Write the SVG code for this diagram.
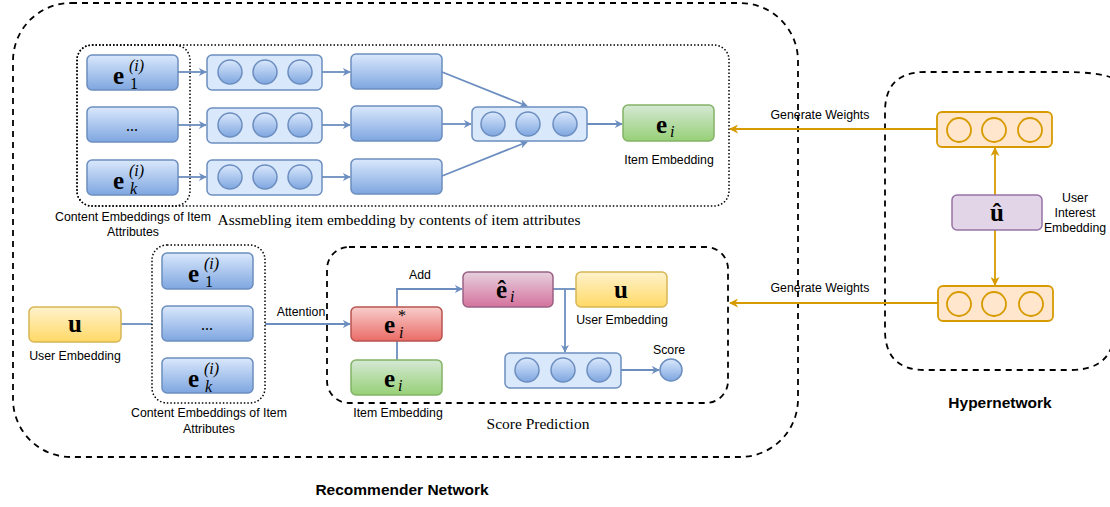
<svg xmlns="http://www.w3.org/2000/svg" width="1110" height="507" viewBox="0 0 1110 507">
<defs>
<linearGradient id="gBlue" x1="0" y1="0" x2="0" y2="1"><stop offset="0" stop-color="#dae8fc"/><stop offset="1" stop-color="#7ea6e0"/></linearGradient>
<linearGradient id="gGreen" x1="0" y1="0" x2="0" y2="1"><stop offset="0" stop-color="#d5e8d4"/><stop offset="1" stop-color="#97d077"/></linearGradient>
<linearGradient id="gRed" x1="0" y1="0" x2="0" y2="1"><stop offset="0" stop-color="#f8cecc"/><stop offset="1" stop-color="#ea6b66"/></linearGradient>
<linearGradient id="gPink" x1="0" y1="0" x2="0" y2="1"><stop offset="0" stop-color="#e6d0de"/><stop offset="1" stop-color="#d5739d"/></linearGradient>
<linearGradient id="gYellow" x1="0" y1="0" x2="0" y2="1"><stop offset="0" stop-color="#fff2cc"/><stop offset="1" stop-color="#ffd966"/></linearGradient>
<marker id="aB" viewBox="0 0 10 10" refX="9" refY="5" markerWidth="8" markerHeight="8" markerUnits="userSpaceOnUse" orient="auto"><path d="M0,0 L10,5 L0,10 L3,5 Z" fill="#6c8ebf"/></marker>
<marker id="aO" viewBox="0 0 10 10" refX="9" refY="5" markerWidth="9" markerHeight="9" markerUnits="userSpaceOnUse" orient="auto"><path d="M0,0 L10,5 L0,10 L3,5 Z" fill="#d79b00"/></marker>
</defs>
<style>
.grp{fill:none;stroke:#000;stroke-width:1.8;stroke-dasharray:6,5}
.dot{fill:none;stroke:#000;stroke-width:1.5;stroke-dasharray:1.5,2}
.bb{fill:url(#gBlue);stroke:#6c8ebf;stroke-width:1.5}
.cb{fill:#dae8fc;stroke:#6c8ebf;stroke-width:1.5}
.cc{fill:url(#gBlue);stroke:#6c8ebf;stroke-width:1.5}
.gr{fill:url(#gGreen);stroke:#82b366;stroke-width:1.5}
.rd{fill:url(#gRed);stroke:#b85450;stroke-width:1.5}
.pk{fill:url(#gPink);stroke:#996185;stroke-width:1.5}
.yl{fill:url(#gYellow);stroke:#d6b656;stroke-width:1.5}
.pu{fill:#e1d5e7;stroke:#9673a6;stroke-width:1.5}
.ob{fill:#ffe6cc;stroke:#d79b00;stroke-width:1.8}
.lb{fill:none;stroke:#6c8ebf;stroke-width:1.8}
.lo{fill:none;stroke:#d79b00;stroke-width:1.8}
.t{font-family:"Liberation Sans",Arial,sans-serif;font-size:12.3px;fill:#000}
.s{font-family:"Liberation Serif","Times New Roman",serif;font-size:15.5px;fill:#000}
.m{font-family:"Liberation Serif","Times New Roman",serif;font-weight:bold;font-size:25px;fill:#000}
.mi{font-family:"Liberation Serif","Times New Roman",serif;font-style:italic;font-size:16px;fill:#000}
.mr{font-family:"Liberation Serif","Times New Roman",serif;font-size:16px;fill:#000}
.b{font-family:"Liberation Sans",Arial,sans-serif;font-weight:bold;font-size:15.5px;fill:#000}
</style>

<g id="recommender-network">
<rect class="grp" x="13" y="3" width="785" height="454" rx="58"/>
<text class="b" x="402" y="495" text-anchor="middle">Recommender Network</text>
</g>
<g id="hypernetwork">
<path class="grp" d="M1112,78 Q1100,72 1060,72 L925,72 Q885,72 885,112 L885,330 Q885,370 925,370 L1070,370 Q1105,370 1112,345"/>
<text class="b" x="1000" y="408" text-anchor="middle">Hypernetwork</text>
</g>

<g id="assembling-group">
<rect class="dot" x="77" y="45" width="652" height="161" rx="15"/>
<text class="s" x="399" y="225" text-anchor="middle">Assmebling item embedding by contents of item attributes</text>
</g>
<g id="content-top-group">
<rect class="dot" x="77" y="45" width="113" height="161" rx="15"/>
<text class="t" x="133" y="221" text-anchor="middle">Content Embeddings of Item</text>
<text class="t" x="133" y="236" text-anchor="middle">Attributes</text>
</g>

<g id="connectors">
<line class="lb" x1="178" y1="72" x2="206" y2="72" marker-end="url(#aB)"/>
<line class="lb" x1="178" y1="125" x2="206" y2="125" marker-end="url(#aB)"/>
<line class="lb" x1="178" y1="177" x2="206" y2="177" marker-end="url(#aB)"/>
<line class="lb" x1="322" y1="72" x2="350" y2="72" marker-end="url(#aB)"/>
<line class="lb" x1="322" y1="125" x2="350" y2="125" marker-end="url(#aB)"/>
<line class="lb" x1="322" y1="177" x2="350" y2="177" marker-end="url(#aB)"/>
<line class="lb" x1="442" y1="72" x2="527" y2="106" marker-end="url(#aB)"/>
<line class="lb" x1="442" y1="124" x2="471" y2="124" marker-end="url(#aB)"/>
<line class="lb" x1="442" y1="176" x2="527" y2="142" marker-end="url(#aB)"/>
<line class="lb" x1="587" y1="124" x2="622" y2="124" marker-end="url(#aB)"/>
<line class="lb" x1="121" y1="324" x2="152" y2="324"/>
<line class="lb" x1="265" y1="324" x2="350" y2="324" marker-end="url(#aB)"/>
<text class="t" x="301" y="316" text-anchor="middle">Attention</text>
<polyline class="lb" points="397,307 397,289 462,289" marker-end="url(#aB)"/>
<text class="t" x="420" y="279" text-anchor="middle">Add</text>
<line class="lb" x1="397" y1="341" x2="397" y2="360"/>
<line class="lb" x1="553" y1="289" x2="576" y2="289"/>
<line class="lb" x1="565" y1="289" x2="565" y2="352" marker-end="url(#aB)"/>
<line class="lb" x1="621" y1="370" x2="659" y2="370" marker-end="url(#aB)"/>
<line class="lo" x1="995" y1="195" x2="995" y2="148" marker-end="url(#aO)"/>
<line class="lo" x1="995" y1="230" x2="995" y2="285" marker-end="url(#aO)"/>
<line class="lo" x1="937" y1="129" x2="730" y2="129" marker-end="url(#aO)"/>
<text class="t" x="820" y="119" text-anchor="middle">Generate Weights</text>
<line class="lo" x1="938" y1="303" x2="730" y2="303" marker-end="url(#aO)"/>
<text class="t" x="820" y="292" text-anchor="middle">Generate Weights</text>
</g>

<g id="e1-top">
<rect class="bb" x="87" y="55" width="91" height="35" rx="5"/>
<text class="m" x="113" y="84">e</text><text class="mi" x="129" y="71">(i)</text><text class="mr" x="130" y="89">1</text>
</g>
<g id="dots-top">
<rect class="bb" x="87" y="107" width="91" height="35" rx="5"/>
<text class="mr" x="132" y="131" text-anchor="middle">...</text>
</g>
<g id="ek-top">
<rect class="bb" x="87" y="160" width="91" height="35" rx="5"/>
<text class="m" x="113" y="189">e</text><text class="mi" x="129" y="176">(i)</text><text class="mi" x="130" y="194">k</text>
</g>

<g id="mlp1">
<rect class="cb" x="207" y="55" width="115" height="35" rx="5"/>
<circle class="cc" cx="230" cy="72" r="12"/><circle class="cc" cx="265" cy="72" r="12"/><circle class="cc" cx="300" cy="72" r="12"/>
</g>
<g id="mlp2">
<rect class="cb" x="207" y="108" width="115" height="35" rx="5"/>
<circle class="cc" cx="230" cy="125" r="12"/><circle class="cc" cx="265" cy="125" r="12"/><circle class="cc" cx="300" cy="125" r="12"/>
</g>
<g id="mlp3">
<rect class="cb" x="207" y="160" width="115" height="35" rx="5"/>
<circle class="cc" cx="230" cy="177" r="12"/><circle class="cc" cx="265" cy="177" r="12"/><circle class="cc" cx="300" cy="177" r="12"/>
</g>
<g id="out1"><rect class="bb" x="351" y="54" width="91" height="35" rx="5"/></g>
<g id="out2"><rect class="bb" x="351" y="106" width="91" height="35" rx="5"/></g>
<g id="out3"><rect class="bb" x="351" y="159" width="91" height="35" rx="5"/></g>
<g id="aggregator">
<rect class="cb" x="472" y="107" width="115" height="34" rx="5"/>
<circle class="cc" cx="493" cy="124" r="12"/><circle class="cc" cx="528" cy="124" r="12"/><circle class="cc" cx="565" cy="124" r="12"/>
</g>
<g id="item-embedding-top">
<rect class="gr" x="623" y="105" width="91" height="36" rx="5"/>
<text class="m" x="656" y="133">e</text><text class="mi" x="670" y="137">i</text>
<text class="t" x="669" y="164" text-anchor="middle">Item  Embedding</text>
</g>

<g id="hyper-top">
<rect class="ob" x="937" y="112" width="115" height="35" rx="5"/>
<circle class="ob" cx="959" cy="130" r="12"/><circle class="ob" cx="994" cy="130" r="12"/><circle class="ob" cx="1030" cy="130" r="12"/>
</g>
<g id="user-interest">
<rect class="pu" x="952" y="195" width="90" height="35" rx="5"/>
<text class="m" x="997" y="221" text-anchor="middle">û</text>
<text class="t" x="1075" y="202" text-anchor="middle">User</text>
<text class="t" x="1075" y="217" text-anchor="middle">Interest</text>
<text class="t" x="1075" y="232" text-anchor="middle">Embedding</text>
</g>
<g id="hyper-bottom">
<rect class="ob" x="938" y="286" width="115" height="35" rx="5"/>
<circle class="ob" cx="959" cy="304" r="12"/><circle class="ob" cx="994" cy="304" r="12"/><circle class="ob" cx="1031" cy="304" r="12"/>
</g>

<g id="user-embedding">
<rect class="yl" x="29" y="307" width="92" height="35" rx="5"/>
<text class="m" x="75" y="332" text-anchor="middle">u</text>
<text class="t" x="75" y="360" text-anchor="middle">User Embedding</text>
</g>
<g id="content-bottom-group">
<rect class="dot" x="152" y="245" width="113" height="158" rx="15"/>
<text class="t" x="209" y="417" text-anchor="middle">Content Embeddings of Item</text>
<text class="t" x="209" y="433" text-anchor="middle">Attributes</text>
</g>
<g id="e1-bottom">
<rect class="bb" x="162" y="253" width="91" height="36" rx="5"/>
<text class="m" x="188" y="282">e</text><text class="mi" x="204" y="269">(i)</text><text class="mr" x="205" y="287">1</text>
</g>
<g id="dots-bottom">
<rect class="bb" x="162" y="306" width="91" height="35" rx="5"/>
<text class="mr" x="207" y="330" text-anchor="middle">...</text>
</g>
<g id="ek-bottom">
<rect class="bb" x="162" y="358" width="91" height="35" rx="5"/>
<text class="m" x="188" y="387">e</text><text class="mi" x="204" y="374">(i)</text><text class="mi" x="205" y="392">k</text>
</g>

<g id="score-group">
<rect class="grp" x="327" y="247" width="401" height="156" rx="22"/>
<text class="s" x="538" y="429" text-anchor="middle">Score Prediction</text>
</g>
<g id="e-star">
<rect class="rd" x="351" y="307" width="91" height="34" rx="5"/>
<text class="m" x="384" y="333">e</text><text class="mr" x="398" y="321">*</text><text class="mi" x="399" y="338">i</text>
</g>
<g id="item-embedding-bottom">
<rect class="gr" x="351" y="360" width="91" height="35" rx="5"/>
<text class="m" x="384" y="387">e</text><text class="mi" x="398" y="391">i</text>
<text class="t" x="398" y="417" text-anchor="middle">Item  Embedding</text>
</g>
<g id="e-hat">
<rect class="pk" x="463" y="272" width="90" height="35" rx="5"/>
<text class="m" x="496" y="298">ê</text><text class="mi" x="510" y="302">i</text>
</g>
<g id="user-embedding-score">
<rect class="yl" x="576" y="272" width="91" height="35" rx="5"/>
<text class="m" x="621" y="298" text-anchor="middle">u</text>
<text class="t" x="622" y="324" text-anchor="middle">User  Embedding</text>
</g>
<g id="score-mlp">
<rect class="cb" x="505" y="353" width="116" height="35" rx="5"/>
<circle class="cc" cx="527" cy="370" r="12"/><circle class="cc" cx="563" cy="370" r="12"/><circle class="cc" cx="599" cy="370" r="12"/>
</g>
<g id="score">
<circle class="cc" cx="671" cy="370" r="11"/>
<text class="t" x="669" y="354" text-anchor="middle">Score</text>
</g>
</svg>
